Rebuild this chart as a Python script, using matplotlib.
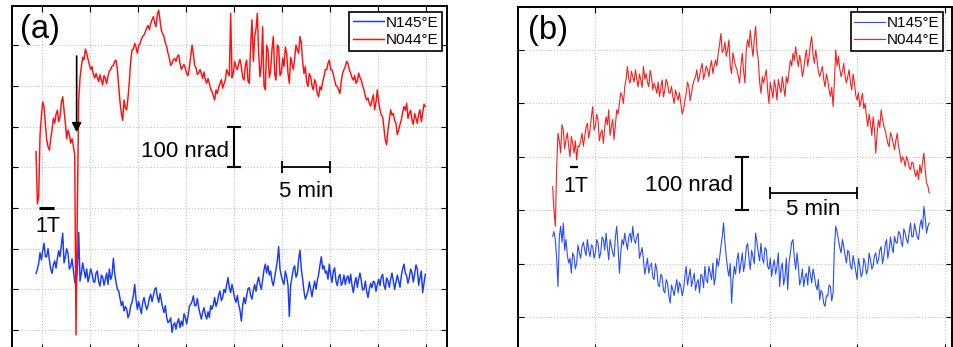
import numpy as np
import matplotlib.pyplot as plt

plt.rcParams['font.family'] = ['Liberation Sans', 'DejaVu Sans']

# tilt records [nrad, arbitrary offset], sampled evenly in time;
# *_mid holds the samples that fall between the main ones
n044_a = [438, 328, 524, 549, 467, 442, 491, 508, 540, 524,
          573, 508, 491, 459, 452, -12, 565, 647, 664, 680,
          653, 647, 619, 620, 627, 602, 618, 624, 640, 650,
          663, 598, 532, 565, 541, 610, 688, 704, 680, 702,
          721, 733, 748, 753, 770, 745, 786, 736, 721, 696,
          668, 655, 667, 672, 655, 647, 643, 625, 672, 680,
          644, 631, 630, 634, 606, 606, 586, 565, 581, 606,
          594, 614, 630, 778, 631, 647, 655, 647, 614, 663,
          606, 762, 721, 778, 622, 745, 590, 688, 639, 721,
          614, 696, 631, 647, 680, 606, 655, 667, 688, 721,
          659, 647, 598, 622, 590, 606, 573, 590, 622, 639,
          663, 639, 614, 598, 581, 631, 647, 655, 631, 614,
          606, 631, 614, 590, 565, 557, 565, 541, 590, 541,
          524, 467, 491, 541, 532, 508, 491, 516, 549, 557,
          532, 516, 532, 508, 541, 532, 549]
n044_a_mid = [310, 480, 560, 505, 450, 470, 520, 530, 512, 560,
              540, 470, 480, 470, 430, 300, 620, 670, 690, 665,
              640, 628, 630, 610, 615, 625, 605, 636, 648, 660,
              640, 560, 515, 545, 572, 660, 690, 695, 700, 715,
              725, 742, 738, 762, 755, 775, 760, 728, 705, 680,
              650, 664, 660, 676, 640, 652, 630, 645, 700, 650,
              628, 640, 618, 615, 618, 592, 575, 590, 596, 615,
              605, 640, 625, 620, 660, 640, 665, 620, 650, 612,
              700, 660, 740, 680, 650, 600, 700, 620, 690, 630,
              700, 625, 668, 695, 630, 670, 640, 700, 680, 705,
              630, 610, 630, 600, 615, 580, 598, 610, 640, 655,
              640, 628, 600, 590, 612, 640, 660, 640, 620, 625,
              612, 620, 600, 575, 570, 550, 578, 560, 560, 528,
              495, 455, 515, 528, 515, 480, 505, 535, 540, 520,
              540, 505, 520, 530, 512, 555]

n145_a = [139, 164, 172, 213, 180, 172, 139, 170, 176, 180,
          238, 180, 188, 156, 147, 108, 240, 140, 147, 150,
          133, 139, 117, 145, 108, 130, 125, 112, 124, 176,
          118, 96, 60, 47, 51, 39, 68, 112, 51, 55,
          68, 63, 60, 88, 84, 104, 68, 72, 43, 31,
          22, -6, 18, 19, 6, 10, 31, 35, 63, 84,
          60, 55, 27, 55, 27, 31, 51, 80, 68, 96,
          80, 92, 129, 92, 96, 68, 63, 22, 80, 84,
          104, 76, 112, 117, 112, 125, 162, 158, 145, 109,
          150, 205, 133, 112, 131, 33, 129, 158, 137, 196,
          125, 76, 96, 100, 104, 100, 137, 180, 158, 145,
          162, 117, 153, 109, 137, 117, 112, 133, 137, 92,
          129, 125, 121, 100, 96, 100, 104, 117, 112, 109,
          137, 100, 121, 125, 121, 117, 121, 133, 162, 133,
          129, 141, 137, 150, 129, 92, 137]
n145_a_mid = [150, 190, 195, 180, 200, 150, 160, 152, 195, 210,
              165, 200, 150, 175, 120, 150, 120, 165, 128, 118,
              150, 120, 140, 118, 135, 110, 140, 150, 135, 140,
              100, 78, 70, 58, 30, 60, 85, 75, 70, 40,
              80, 50, 78, 70, 100, 82, 90, 55, 60, 18,
              30, 12, 2, 28, 22, 40, 15, 58, 70, 60,
              78, 40, 44, 38, 45, 60, 62, 58, 86, 72,
              100, 110, 104, 112, 78, 85, 48, 60, 65, 102,
              85, 98, 95, 130, 100, 148, 140, 135, 120, 130,
              170, 150, 120, 145, 110, 110, 150, 130, 175, 150,
              95, 85, 118, 82, 120, 122, 160, 150, 140, 125,
              135, 145, 120, 130, 110, 135, 128, 115, 110, 115,
              105, 140, 98, 120, 80, 115, 120, 95, 125, 130,
              110, 128, 105, 140, 100, 135, 105, 150, 140, 115,
              150, 118, 160, 110, 145, 115]

n044_b = [244, 170, 344, 307, 350, 332, 319, 338, 307, 294,
          319, 344, 338, 363, 350, 394, 357, 369, 344, 325,
          375, 388, 357, 332, 388, 400, 413, 431, 469, 438,
          450, 463, 431, 444, 469, 456, 431, 450, 438, 419,
          413, 444, 425, 438, 419, 413, 425, 406, 400, 388,
          419, 431, 419, 444, 463, 450, 475, 456, 463, 469,
          456, 481, 494, 531, 500, 488, 519, 456, 481, 463,
          438, 494, 438, 519, 537, 488, 544, 481, 419, 438,
          463, 400, 425, 444, 406, 431, 450, 413, 438, 481,
          494, 506, 469, 475, 463, 500, 488, 525, 475, 481,
          450, 469, 431, 444, 413, 394, 500, 488, 450, 475,
          438, 463, 425, 438, 406, 394, 419, 400, 357, 363,
          375, 307, 369, 388, 357, 338, 319, 338, 313, 344,
          307, 300, 282, 294, 276, 288, 263, 257, 269, 307,
          251, 232]
n044_b_mid = [200, 280, 330, 360, 315, 345, 300, 325, 330, 320,
              330, 320, 355, 335, 375, 350, 380, 330, 350, 355,
              360, 340, 370, 360, 380, 420, 400, 445, 445, 460,
              440, 445, 455, 430, 445, 440, 462, 425, 430, 440,
              430, 412, 445, 420, 432, 400, 415, 420, 380, 405,
              440, 405, 435, 450, 440, 465, 445, 470, 450, 480,
              470, 470, 510, 495, 515, 500, 470, 495, 470, 450,
              470, 460, 500, 505, 510, 520, 500, 440, 450, 450,
              425, 440, 410, 430, 445, 420, 430, 450, 460, 470,
              480, 485, 490, 450, 485, 470, 510, 490, 500, 460,
              460, 445, 455, 425, 430, 440, 470, 465, 460, 450,
              450, 440, 455, 415, 420, 405, 390, 375, 380, 340,
              350, 345, 355, 370, 350, 325, 345, 325, 330, 320,
              290, 295, 300, 280, 290, 272, 275, 285, 290, 275,
              245]

n145_b = [151, 145, 57, 170, 176, 145, 101, 82, 113, 101,
          120, 132, 126, 145, 113, 132, 120, 138, 120, 145,
          157, 107, 132, 113, 170, 82, 145, 157, 126, 157,
          170, 138, 157, 120, 107, 95, 82, 101, 70, 89,
          57, 76, 45, 64, 26, 51, 57, 45, 57, 51,
          95, 76, 57, 82, 64, 45, 76, 95, 64, 82,
          101, 76, 95, 132, 176, 113, 76, 26, 95, 107,
          82, 120, 101, 138, 89, 113, 157, 120, 138, 101,
          126, 89, 76, 107, 95, 57, 101, 76, 51, 120,
          145, 89, 95, 70, 57, 82, 95, 64, 76, 51,
          32, 45, 20, 39, 57, 45, 170, 145, 120, 132,
          101, 120, 89, 101, 70, 95, 82, 101, 89, 107,
          95, 120, 107, 132, 113, 145, 126, 132, 151, 138,
          157, 132, 157, 138, 176, 151, 163, 145, 182, 207,
          157, 176]
n145_b_mid = [160, 110, 150, 140, 125, 115, 110, 120, 90, 135,
              110, 140, 115, 125, 135, 110, 145, 110, 150, 125,
              130, 145, 120, 150, 130, 120, 135, 140, 150, 140,
              145, 150, 110, 130, 80, 110, 95, 75, 100, 60,
              80, 50, 70, 40, 60, 40, 70, 65, 40, 75,
              60, 90, 70, 50, 70, 80, 55, 70, 95, 70,
              60, 110, 110, 150, 140, 90, 100, 70, 80, 120,
              100, 85, 130, 110, 125, 100, 140, 105, 110, 130,
              95, 110, 95, 80, 120, 90, 60, 110, 100, 140,
              110, 120, 60, 90, 75, 60, 80, 90, 60, 70,
              50, 25, 40, 60, 30, 130, 160, 130, 145, 115,
              125, 95, 115, 85, 110, 75, 110, 80, 120, 90,
              115, 100, 125, 100, 135, 110, 150, 120, 140, 160,
              140, 165, 145, 160, 150, 175, 150, 170, 165, 185,
              170]

labels = ['N145°E', 'N044°E']


def merge(main, mid):
    v = np.empty(len(main) + len(mid))
    v[0::2] = main
    v[1::2] = mid
    return v


red_a = merge(n044_a, n044_a_mid)
blue_a = merge(n145_a, n145_a_mid)
red_b = merge(n044_b, n044_b_mid)
blue_b = merge(n145_b, n145_b_mid)

# time axis [min]
t_a = np.linspace(-0.62, 39.93, len(red_a))
t_b = np.linspace(-2.42, 19.10, len(red_b))

W, H = 954, 347
fig = plt.figure(figsize=(W / 100, H / 100), dpi=100)


def px_axes(x0, x1, y0, y1):
    return fig.add_axes([x0 / W, 1 - y1 / H, (x1 - x0) / W, (y1 - y0) / H])


def style(ax, xt, yt):
    ax.set_xticks(xt)
    ax.set_yticks(yt)
    ax.tick_params(direction='in', length=4, width=0.8, top=True, right=True,
                   labelbottom=False, labelleft=False)
    ax.grid(True, color='#c4c4c4', linestyle=':', linewidth=0.8)
    for s in ax.spines.values():
        s.set_linewidth(1.4)


def scale_bars(ax, vx, vy, hx, hy):
    ax.errorbar(vx, vy, yerr=50, fmt='none', ecolor='k', elinewidth=1.5,
                capsize=4.7, capthick=1.5)
    ax.errorbar(hx, hy, xerr=2.5, fmt='none', ecolor='k', elinewidth=1.3,
                capsize=4.3, capthick=1.3)


def add_legend(ax, handles, anchor):
    leg = ax.legend(handles, labels, loc='upper right', bbox_to_anchor=anchor,
                    borderaxespad=0, fontsize=11, fancybox=False, framealpha=1,
                    edgecolor='k', borderpad=0.25, handlelength=2.0,
                    handletextpad=0.1, labelspacing=0.22)
    leg.get_frame().set_linewidth(1.2)


# ---- panel (a)
ax = px_axes(12, 447, 6, 350)
lb, = ax.plot(t_a, blue_a, color='#1a3cf0', lw=1.05)
lr, = ax.plot(t_a, red_a, color='#ff1010', lw=1.05)
ax.set_xlim(-3.125, 42.19)
ax.set_ylim(-49, 796)
style(ax, np.arange(0, 41, 5), np.arange(0, 701, 100))
add_legend(ax, [lb, lr], (0.988, 0.983))

ax.text(-2.29, 717, '(a)', fontsize=23.5, ha='left', va='baseline')
ax.annotate('', xy=(3.61, 479), xytext=(3.61, 680),
            arrowprops=dict(arrowstyle='-|>', color='k', lw=1.2, mutation_scale=14))
ax.plot([-0.31, 1.25], [300, 300], color='k', lw=2.2, solid_capstyle='butt')
ax.text(-0.73, 241, '1T', fontsize=15.5, ha='left', va='baseline')
scale_bars(ax, 20, 450, 27.5, 400)
ax.text(19.48, 426, '100 nrad', fontsize=16, ha='right', va='baseline')
ax.text(27.47, 327, '5 min', fontsize=16, ha='center', va='baseline')

# ---- panel (b)
ax = px_axes(518, 952.5, 7, 350)
lb, = ax.plot(t_b, blue_b, color='#2a4ff0', lw=0.8)
lr, = ax.plot(t_b, red_b, color='#f52020', lw=0.8)
ax.set_xlim(-4.4, 20.43)
ax.set_ylim(-61.8, 580.5)
style(ax, np.arange(0, 21, 5), np.arange(0, 501, 100))
add_legend(ax, [lb, lr], (0.978, 0.985))

ax.text(-3.83, 520, '(b)', fontsize=23.5, ha='left', va='baseline')
ax.plot([-1.43, -0.97], [281, 281], color='k', lw=1.6, solid_capstyle='butt')
ax.text(-1.83, 235, '1T', fontsize=15.5, ha='left', va='baseline')
scale_bars(ax, 8.38, 250, 12.5, 231.6)
ax.text(7.9, 236, '100 nrad', fontsize=16, ha='right', va='baseline')
ax.text(12.47, 191, '5 min', fontsize=16, ha='center', va='baseline')

fig.savefig('out.png', dpi=100)
